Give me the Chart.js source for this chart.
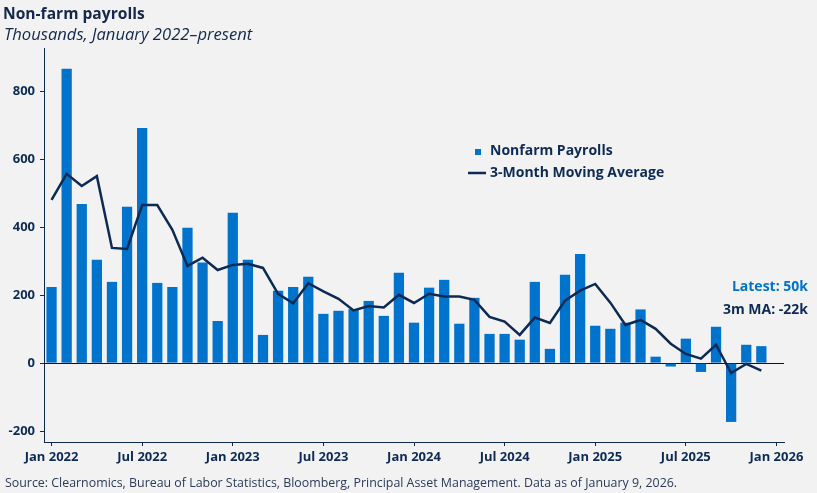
<!DOCTYPE html>
<html>
<head>
<meta charset="utf-8">
<script src="https://cdn.jsdelivr.net/npm/chart.js@4.4.1/dist/chart.umd.min.js"></script>
<style>
  html, body { margin: 0; padding: 0; background: #f2f2f2; }
  #wrap { position: relative; width: 817px; height: 493px; overflow: hidden; font-family: 'Open Sans', sans-serif; color: #14284b; }
  #chartBox { position: absolute; left: 0; top: 0; width: 817px; height: 493px; }
  .title { position: absolute; left: 3px; top: 2px; font-size: 15.6px; font-weight: 700; }
  .subtitle { position: absolute; left: 4px; top: 22px; font-size: 16.6px; font-style: italic; }
  .source { position: absolute; left: 5px; top: 474px; font-size: 12.4px; color: #2a3a58; }
</style>
</head>
<body>
<div id="wrap">
  <div id="chartBox"><canvas id="nfpChart"></canvas></div>
  <div class="title">Non-farm payrolls</div>
  <div class="subtitle">Thousands, January 2022–present</div>
  <div class="source">Source: Clearnomics, Bureau of Labor Statistics, Bloomberg, Principal Asset Management. Data as of January 9, 2026.</div>
</div>
<script>
// Month categories, Jan 2022 through Jan 2026
const months = [
    'Jan 2022', 'Feb 2022', 'Mar 2022', 'Apr 2022', 'May 2022', 'Jun 2022', 'Jul 2022', 'Aug 2022', 'Sep 2022', 'Oct 2022', 'Nov 2022', 'Dec 2022',
    'Jan 2023', 'Feb 2023', 'Mar 2023', 'Apr 2023', 'May 2023', 'Jun 2023', 'Jul 2023', 'Aug 2023', 'Sep 2023', 'Oct 2023', 'Nov 2023', 'Dec 2023',
    'Jan 2024', 'Feb 2024', 'Mar 2024', 'Apr 2024', 'May 2024', 'Jun 2024', 'Jul 2024', 'Aug 2024', 'Sep 2024', 'Oct 2024', 'Nov 2024', 'Dec 2024',
    'Jan 2025', 'Feb 2025', 'Mar 2025', 'Apr 2025', 'May 2025', 'Jun 2025', 'Jul 2025', 'Aug 2025', 'Sep 2025', 'Oct 2025', 'Nov 2025', 'Dec 2025',
    'Jan 2026'
];

// Monthly change in nonfarm payrolls (thousands)
const payrolls = [
    224, 866, 468, 304, 239, 460, 692, 236, 224, 398, 296, 124,
    442, 304, 83, 213, 224, 254, 145, 154, 159, 183, 139, 266,
    119, 222, 245, 116, 192, 86, 86, 69, 239, 42, 260, 321,
    110, 101, 119, 158, 19, -10, 72, -26, 107, -173, 54, 50,
    null
];

// 3-month moving average (thousands)
const movingAvg = [
    480, 557, 521, 550, 339, 336, 465, 465, 392, 286, 310, 274,
    289, 292, 280, 204, 176, 235, 211, 189, 155, 168, 164, 201,
    177, 204, 196, 196, 186, 136, 122, 83, 134, 118, 184, 213,
    233, 178, 112, 127, 101, 57, 27, 13, 54, -29, -2, -22,
    null
];

const xTickLabels = ['Jan 2022', 'Jul 2022', 'Jan 2023', 'Jul 2023', 'Jan 2024', 'Jul 2024', 'Jan 2025', 'Jul 2025', 'Jan 2026'];
const yTickValues = [-200, 0, 200, 400, 600, 800];

const NAVY = '#0d2a55';
const BLUE = '#0074cc';
const FONT = "'Open Sans', sans-serif";

// zero line sits behind the bars, so it only shows in the gaps
const zeroLinePlugin = {
    id: 'zeroLine',
    beforeDatasetsDraw(chart) {
        const { ctx, chartArea, scales } = chart;
        const y = Math.round(scales.y.getPixelForValue(0)) + 0.5;
        ctx.save();
        ctx.strokeStyle = '#111';
        ctx.lineWidth = 1;
        ctx.beginPath();
        ctx.moveTo(chartArea.left, y);
        ctx.lineTo(chartArea.right, y);
        ctx.stroke();
        ctx.restore();
    }
};

// legend block and latest-value callouts
const labelsPlugin = {
    id: 'labels',
    afterDraw(chart) {
        const ctx = chart.ctx;
        const ds = chart.data.datasets;
        ctx.save();
        ctx.font = `700 14px ${FONT}`;
        ctx.textBaseline = 'middle';
        ctx.textAlign = 'left';

        // bars entry
        ctx.fillStyle = ds[0].backgroundColor;
        ctx.fillRect(475, 149, 6, 6);
        ctx.fillStyle = NAVY;
        ctx.fillText(ds[0].label, 490, 151);

        // line entry
        ctx.strokeStyle = ds[1].borderColor;
        ctx.lineWidth = 2.5;
        ctx.beginPath();
        ctx.moveTo(468, 173);
        ctx.lineTo(486, 173);
        ctx.stroke();
        ctx.fillText(ds[1].label, 490, 173);

        // latest values
        const last = payrolls.filter(v => v !== null).length - 1;
        ctx.textAlign = 'right';
        ctx.fillStyle = BLUE;
        ctx.fillText(`Latest: ${payrolls[last]}k`, 808, 287);
        ctx.fillStyle = NAVY;
        ctx.fillText(`3m MA: ${movingAvg[last]}k`, 808, 310);
        ctx.restore();
    }
};

const ctx = document.getElementById('nfpChart').getContext('2d');

new Chart(ctx, {
    type: 'bar',
    data: {
        labels: months,
        datasets: [{
            type: 'bar',
            label: 'Nonfarm Payrolls',
            data: payrolls,
            backgroundColor: BLUE,
            borderWidth: 0,
            categoryPercentage: 1,
            barPercentage: 0.68,
            order: 1
        }, {
            type: 'line',
            label: '3-Month Moving Average',
            data: movingAvg,
            borderColor: NAVY,
            borderWidth: 2.5,
            pointRadius: 0,
            tension: 0,
            fill: false,
            order: 0
        }]
    },
    options: {
        responsive: true,
        maintainAspectRatio: false,
        animation: false,
        layout: {
            padding: { top: 48, right: 33, bottom: 0, left: 0 }
        },
        scales: {
            x: {
                offset: true,
                grid: {
                    offset: false,
                    drawOnChartArea: false,
                    drawTicks: true,
                    tickLength: 4,
                    color: NAVY
                },
                border: { display: true, color: NAVY, width: 1 },
                ticks: {
                    autoSkip: false,
                    maxRotation: 0,
                    padding: 3,
                    color: NAVY,
                    font: { family: FONT, size: 13, weight: '700' }
                },
                afterBuildTicks: axis => {
                    axis.ticks = axis.ticks.filter(t => xTickLabels.includes(months[t.value]));
                },
                afterFit: axis => { axis.height = 51; }
            },
            y: {
                min: -232,
                max: 927,
                grid: {
                    drawOnChartArea: false,
                    drawTicks: true,
                    tickLength: 4,
                    color: NAVY
                },
                border: { display: true, color: NAVY, width: 1 },
                ticks: {
                    padding: 5,
                    color: NAVY,
                    font: { family: FONT, size: 13, weight: '700' }
                },
                afterBuildTicks: axis => {
                    axis.ticks = yTickValues.map(v => ({ value: v }));
                },
                afterFit: axis => { axis.width = 44; }
            }
        },
        plugins: {
            legend: { display: false },
            tooltip: { enabled: false }
        }
    },
    plugins: [zeroLinePlugin, labelsPlugin]
});
</script>
</body>
</html>
